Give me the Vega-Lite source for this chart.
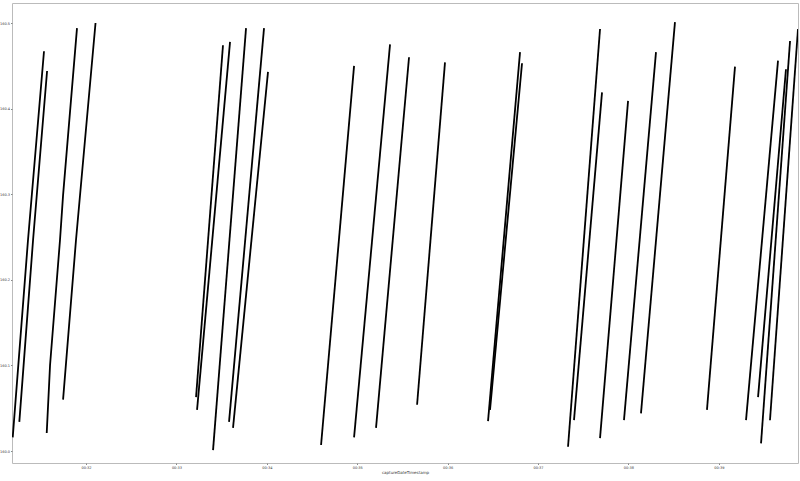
{
  "$schema": "https://vega.github.io/schema/vega-lite/v6.json",
  "width": 786,
  "height": 460,
  "autosize": {"type": "none"},
  "padding": {"left": 12, "top": 3, "right": 2, "bottom": 18},
  "background": "white",
  "config": {
    "view": {"stroke": "#bbbbbb", "strokeWidth": 1},
    "axis": {"grid": false, "domain": false, "tickColor": "#888888", "tickSize": 1.5, "labelFontSize": 3.5, "labelColor": "#333333", "labelFont": "DejaVu Sans", "titleFont": "DejaVu Sans", "titleFontSize": 4, "titleFontWeight": "normal", "titleColor": "#333333", "labelPadding": 1}
  },
  "data": {"values": [
    {"s": "A", "p": 0, "t": 31.189, "v": 160.016},
    {"s": "A", "p": 1, "t": 31.358, "v": 160.2465},
    {"s": "A", "p": 2, "t": 31.535, "v": 160.467},
    {"s": "B", "p": 0, "t": 31.262, "v": 160.034},
    {"s": "B", "p": 1, "t": 31.414, "v": 160.2465},
    {"s": "B", "p": 2, "t": 31.569, "v": 160.444},
    {"s": "C", "p": 0, "t": 31.565, "v": 160.021},
    {"s": "C", "p": 1, "t": 31.602, "v": 160.1005},
    {"s": "C", "p": 2, "t": 31.712, "v": 160.2465},
    {"s": "C", "p": 3, "t": 31.746, "v": 160.299},
    {"s": "C", "p": 4, "t": 31.900, "v": 160.494},
    {"s": "D", "p": 0, "t": 31.746, "v": 160.060},
    {"s": "D", "p": 1, "t": 31.889, "v": 160.2465},
    {"s": "D", "p": 2, "t": 32.105, "v": 160.500},
    {"s": "E", "p": 0, "t": 33.217, "v": 160.063},
    {"s": "E", "p": 1, "t": 33.515, "v": 160.474},
    {"s": "F", "p": 0, "t": 33.228, "v": 160.048},
    {"s": "F", "p": 1, "t": 33.593, "v": 160.478},
    {"s": "G", "p": 0, "t": 33.405, "v": 160.001},
    {"s": "G", "p": 1, "t": 33.770, "v": 160.494},
    {"s": "H", "p": 0, "t": 33.582, "v": 160.034},
    {"s": "H", "p": 1, "t": 33.969, "v": 160.494},
    {"s": "I", "p": 0, "t": 33.626, "v": 160.027},
    {"s": "I", "p": 1, "t": 34.013, "v": 160.443},
    {"s": "J", "p": 0, "t": 34.600, "v": 160.007},
    {"s": "J", "p": 1, "t": 34.965, "v": 160.450},
    {"s": "K", "p": 0, "t": 34.965, "v": 160.016},
    {"s": "K", "p": 1, "t": 35.363, "v": 160.475},
    {"s": "L", "p": 0, "t": 35.208, "v": 160.027},
    {"s": "L", "p": 1, "t": 35.573, "v": 160.460},
    {"s": "M", "p": 0, "t": 35.662, "v": 160.054},
    {"s": "M", "p": 1, "t": 35.971, "v": 160.454},
    {"s": "N", "p": 0, "t": 36.447, "v": 160.035},
    {"s": "N", "p": 1, "t": 36.801, "v": 160.466},
    {"s": "O", "p": 0, "t": 36.469, "v": 160.048},
    {"s": "O", "p": 1, "t": 36.823, "v": 160.453},
    {"s": "P", "p": 0, "t": 37.332, "v": 160.005},
    {"s": "P", "p": 1, "t": 37.686, "v": 160.493},
    {"s": "Q", "p": 0, "t": 37.398, "v": 160.036},
    {"s": "Q", "p": 1, "t": 37.708, "v": 160.419},
    {"s": "R", "p": 0, "t": 37.686, "v": 160.015},
    {"s": "R", "p": 1, "t": 37.996, "v": 160.409},
    {"s": "S", "p": 0, "t": 37.951, "v": 160.036},
    {"s": "S", "p": 1, "t": 38.305, "v": 160.466},
    {"s": "T", "p": 0, "t": 38.139, "v": 160.044},
    {"s": "T", "p": 1, "t": 38.515, "v": 160.501},
    {"s": "U", "p": 0, "t": 38.869, "v": 160.048},
    {"s": "U", "p": 1, "t": 39.179, "v": 160.449},
    {"s": "V", "p": 0, "t": 39.301, "v": 160.036},
    {"s": "V", "p": 1, "t": 39.655, "v": 160.456},
    {"s": "W", "p": 0, "t": 39.434, "v": 160.063},
    {"s": "W", "p": 1, "t": 39.743, "v": 160.446},
    {"s": "X", "p": 0, "t": 39.467, "v": 160.009},
    {"s": "X", "p": 1, "t": 39.788, "v": 160.479},
    {"s": "Y", "p": 0, "t": 39.566, "v": 160.036},
    {"s": "Y", "p": 1, "t": 39.876, "v": 160.493}
  ]},
  "mark": {"type": "line", "color": "black", "strokeWidth": 1.8, "clip": true},
  "encoding": {
    "x": {"field": "t", "type": "quantitative", "scale": {"domain": [31.181, 39.876], "nice": false, "zero": false},
      "axis": {"values": [32, 33, 34, 35, 36, 37, 38, 39], "labelExpr": "'00:' + datum.value", "title": "captureDateTimestamp", "titlePadding": 1}},
    "y": {"field": "v", "type": "quantitative", "scale": {"domain": [159.986, 160.5234], "nice": false, "zero": false},
      "axis": {"values": [160.0, 160.1, 160.2, 160.3, 160.4, 160.5], "format": ".1f", "title": null}},
    "detail": {"field": "s"},
    "order": {"field": "p"}
  }
}
